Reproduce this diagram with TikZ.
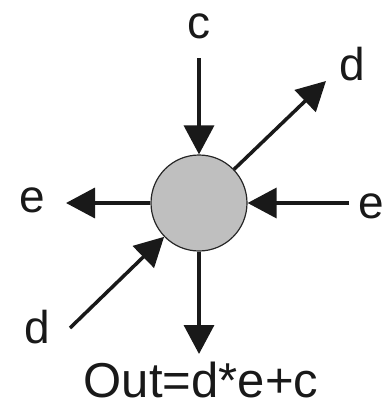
\documentclass[tikz,border=0pt]{standalone}
\usepackage{fontspec}
\setmainfont{Liberation Sans}
\usetikzlibrary{arrows.meta}
\begin{document}
\begin{tikzpicture}[x=1pt,y=-1pt,
  lbl/.style={inner sep=0pt, font=\fontsize{46}{48}\selectfont, text=black!90},
  arr/.style={line width=3.5pt, draw=black!90, -{Triangle[length=29pt,width=30pt]}}]
\useasboundingbox (0,0) rectangle (386,407);
\node[circle, draw=black!85, line width=1.2pt, fill=black!25, minimum size=96pt, inner sep=0pt] (n) at (199,203) {};
\node[lbl] (lc) at (199,26) {c};
\node[lbl] (ltr) at (352,64) {d};
\node[lbl] (ll) at (32,200) {e};
\node[lbl] (lr) at (371,206) {e};
\node[lbl] (lbl2) at (37,327) {d};
\node[inner sep=0pt, font=\fontsize{49}{51}\selectfont, text=black!90] (out) at (201,380) {Out=d*e+c};
\coordinate (ctop) at (199,58);
\coordinate (tipd) at (199,354);
\coordinate (tipl) at (66,203);
\coordinate (rstart) at (349,203);
\coordinate (tiptr) at (326,81);
\coordinate (bl) at (70,328);
\draw[arr] (ctop) -- (n);
\draw[arr] (n) -- (tipd);
\draw[arr] (n) -- (tipl);
\draw[arr] (rstart) -- (n);
\draw[arr] (n) -- (tiptr);
\draw[arr] (bl) -- (n);
\end{tikzpicture}
\end{document}
